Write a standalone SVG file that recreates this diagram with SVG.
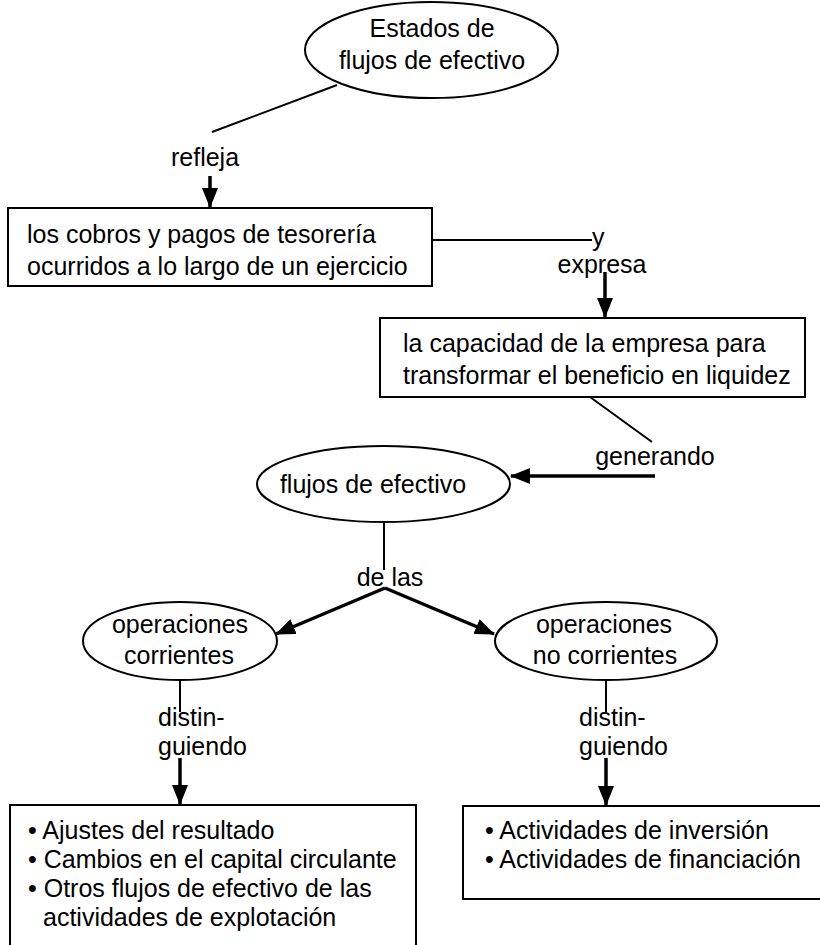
<svg xmlns="http://www.w3.org/2000/svg" width="820" height="945" viewBox="0 0 820 945">
<style>
text{font-family:"Liberation Sans",Arial,sans-serif;font-size:25px;fill:#000}
.c{text-anchor:middle}
.n{fill:#fff;stroke:#000;stroke-width:2}
.l{stroke:#000;stroke-width:2;fill:none}
.a{stroke:#000;stroke-width:3.5;fill:none;marker-end:url(#ah)}
</style>
<defs>
<marker id="ah" markerUnits="userSpaceOnUse" markerWidth="20" markerHeight="16" refX="19" refY="8" orient="auto">
<path d="M0,0 L20,8 L0,16 z" fill="#000"/>
</marker>
</defs>
<rect width="820" height="945" fill="#fff"/>
<g id="connectors">
<line class="l" x1="337" y1="85" x2="212" y2="132"/>
<line class="a" x1="210" y1="176" x2="210" y2="207"/>
<line class="l" x1="432" y1="240" x2="592" y2="240"/>
<line class="a" x1="605" y1="272" x2="605" y2="317"/>
<line class="l" x1="590" y1="397" x2="652" y2="442"/>
<line class="a" x1="655" y1="476" x2="511" y2="476"/>
<line class="l" x1="384" y1="523" x2="384" y2="570"/>
<line class="a" x1="385" y1="588" x2="276" y2="634"/>
<line class="a" x1="385" y1="588" x2="494" y2="634"/>
<line class="l" x1="180" y1="680" x2="180" y2="712"/>
<line class="a" x1="180" y1="758" x2="180" y2="804"/>
<line class="l" x1="606" y1="680" x2="606" y2="712"/>
<line class="a" x1="606" y1="758" x2="606" y2="805"/>
<text class="c" x="205" y="166">refleja</text>
<text x="592" y="246">y</text>
<text class="c" x="602" y="273">expresa</text>
<text class="c" x="655" y="465">generando</text>
<text class="c" x="390" y="586">de las</text>
<text x="158" y="726">distin-</text>
<text x="158" y="755">guiendo</text>
<text x="579" y="726">distin-</text>
<text x="579" y="755">guiendo</text>
</g>
<g id="estados">
<ellipse class="n" cx="431.5" cy="50" rx="126.5" ry="48"/>
<text class="c" x="432" y="37">Estados de</text>
<text class="c" x="432" y="69">flujos de efectivo</text>
</g>
<g id="cobros">
<rect class="n" x="8" y="208" width="424" height="78"/>
<text x="27" y="243">los cobros y pagos de tesorería</text>
<text x="27" y="275">ocurridos a lo largo de un ejercicio</text>
</g>
<g id="capacidad">
<rect class="n" x="380" y="318" width="425" height="79"/>
<text x="403" y="352">la capacidad de la empresa para</text>
<text x="403" y="384">transformar el beneficio en liquidez</text>
</g>
<g id="flujos">
<ellipse class="n" cx="383.5" cy="484" rx="126.5" ry="38"/>
<text class="c" x="373" y="493">flujos de efectivo</text>
</g>
<g id="corrientes">
<ellipse class="n" cx="180" cy="641" rx="97" ry="39"/>
<text class="c" x="180" y="633">operaciones</text>
<text class="c" x="179" y="664">corrientes</text>
</g>
<g id="no-corrientes">
<ellipse class="n" cx="606" cy="641" rx="111" ry="39"/>
<text class="c" x="604" y="633">operaciones</text>
<text class="c" x="605" y="664">no corrientes</text>
</g>
<g id="lista-corrientes">
<rect class="n" x="10" y="805" width="406" height="160"/>
<text x="28" y="839">• Ajustes del resultado</text>
<text x="28" y="868">• Cambios en el capital circulante</text>
<text x="28" y="897">• Otros flujos de efectivo de las</text>
<text x="43" y="926">actividades de explotación</text>
</g>
<g id="lista-no-corrientes">
<rect class="n" x="463" y="806" width="380" height="93"/>
<text x="485" y="839">• Actividades de inversión</text>
<text x="485" y="868">• Actividades de financiación</text>
</g>
</svg>
